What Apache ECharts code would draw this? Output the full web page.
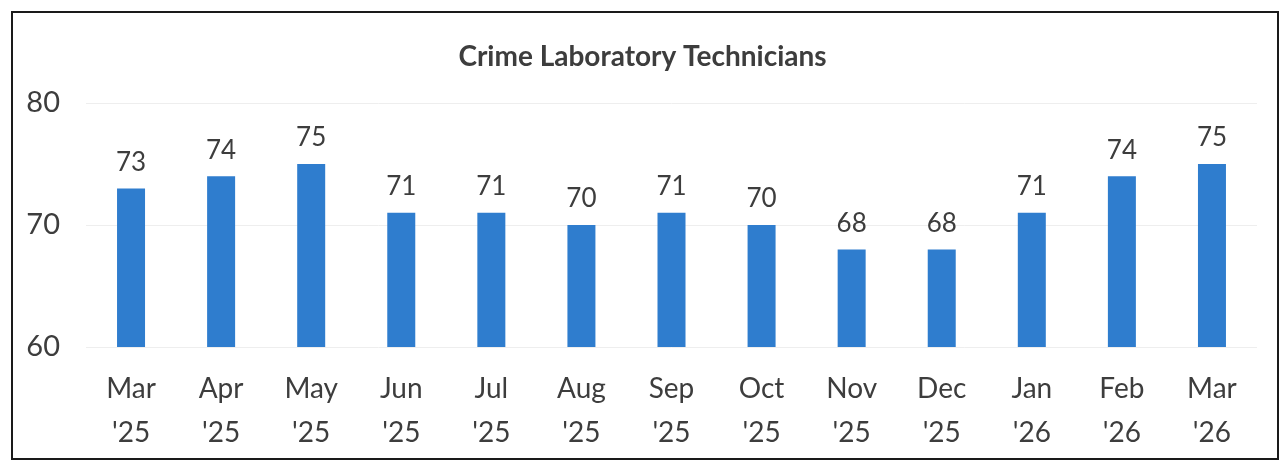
<!DOCTYPE html>
<html>
<head>
<meta charset="utf-8">
<script src="https://cdn.jsdelivr.net/npm/echarts@6/dist/echarts.min.js"></script>
<style>
  html, body { margin: 0; padding: 0; background: #fff; }
  #main { width: 1285px; height: 470px; }
</style>
</head>
<body>
<div id="main"></div>
<script>
var months = ["Mar\n'25", "Apr\n'25", "May\n'25", "Jun\n'25", "Jul\n'25", "Aug\n'25", "Sep\n'25",
  "Oct\n'25", "Nov\n'25", "Dec\n'25", "Jan\n'26", "Feb\n'26", "Mar\n'26"];
var technicians = [73, 74, 75, 71, 71, 70, 71, 70, 68, 68, 71, 74, 75];

var chart = echarts.init(document.getElementById('main'));

var option = {
  animation: false,
  textStyle: { fontFamily: 'Lato' },
  title: {
    text: 'Crime Laboratory Technicians',
    left: 'center',
    top: 38,
    textStyle: { fontFamily: 'Lato', fontSize: 28, fontWeight: 'bold', color: '#3d3d3d' }
  },
  // the scanned frame around the chart
  graphic: [{
    type: 'rect',
    shape: { x: 12, y: 12, width: 1266, height: 447 },
    style: { fill: 'none', stroke: '#1a1a1a', lineWidth: 2 },
    silent: true
  }],
  grid: {
    left: 86,
    right: 28,
    top: 103,
    bottom: 123
  },
  xAxis: {
    type: 'category',
    data: months,
    axisLine: { show: false },
    axisTick: { show: false },
    axisLabel: {
      margin: 20,
      fontSize: 28,
      lineHeight: 44,
      color: '#3d3d3d',
      fontFamily: 'Lato'
    }
  },
  yAxis: {
    type: 'value',
    min: 60,
    max: 80,
    interval: 10,
    axisLine: { show: false },
    axisTick: { show: false },
    axisLabel: { margin: 26, fontSize: 29, color: '#3d3d3d', fontFamily: 'Lato' },
    splitLine: { lineStyle: { color: '#eeeeee', width: 1 } }
  },
  series: [{
    type: 'bar',
    data: technicians,
    barWidth: 28,
    itemStyle: { color: '#2F7DCE' },
    label: {
      show: true,
      position: 'top',
      distance: 13,
      fontSize: 26,
      color: '#3d3d3d',
      fontFamily: 'Lato'
    }
  }]
};

chart.setOption(option);
</script>
</body>
</html>
